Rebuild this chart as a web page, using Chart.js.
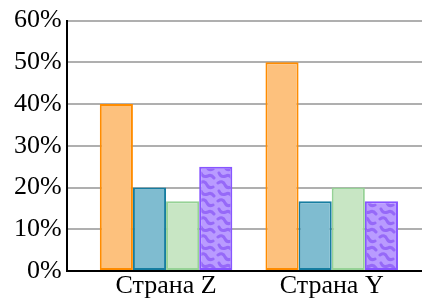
<!DOCTYPE html>
<html lang="ru">
<head>
  <meta charset="UTF-8">
  <title>Страны</title>
  <script src="https://cdn.jsdelivr.net/npm/chart.js"></script>
  <style>
    html, body { margin: 0; padding: 0; background: #fff; }
    canvas { display: block; }
  </style>
</head>
<body>
  <canvas id="myChart" width="422" height="300"></canvas>
  <script>
    // data
    const categories = ['Страна Z', 'Страна Y'];
    const seriesOrange = [40, 50];
    const seriesBlue = [20, 16.7];
    const seriesGreen = [16.7, 20];
    const seriesPurple = [25, 16.7];
    const yTicks = [0, 10, 20, 30, 40, 50, 60];

    // purple texture for the last series
    function makePattern() {
      const c = document.createElement('canvas');
      c.width = 18; c.height = 18;
      const g = c.getContext('2d');
      g.fillStyle = 'rgb(185,155,255)';
      g.fillRect(0, 0, 18, 18);
      g.strokeStyle = 'rgb(150,105,248)';
      g.lineWidth = 3;
      g.lineCap = 'round';
      g.beginPath();
      g.moveTo(2, 3); g.quadraticCurveTo(7, 0, 9, 5); g.quadraticCurveTo(11, 9, 15, 7);
      g.moveTo(3, 11); g.quadraticCurveTo(5, 16, 10, 14); g.quadraticCurveTo(13, 12, 16, 16);
      g.stroke();
      return g.createPattern(c, 'repeat');
    }

    const toPoints = arr => arr.map((v, i) => ({ x: i + 1, y: v }));
    const font = { family: "'Liberation Serif', 'Times New Roman', serif", size: 26 };

    const ctx = document.getElementById('myChart');
    new Chart(ctx, {
      type: 'bar',
      data: {
        datasets: [
          { data: toPoints(seriesOrange), backgroundColor: 'rgb(253,193,125)', borderColor: 'rgb(255,140,0)' },
          { data: toPoints(seriesBlue), backgroundColor: 'rgb(127,188,208)', borderColor: 'rgb(22,125,160)' },
          { data: toPoints(seriesGreen), backgroundColor: 'rgb(200,230,196)', borderColor: 'rgb(150,210,150)' },
          { data: toPoints(seriesPurple), backgroundColor: makePattern(), borderColor: 'rgb(135,85,255)' }
        ].map(d => Object.assign(d, { borderWidth: 2, borderSkipped: false, barPercentage: 1, categoryPercentage: 0.8 }))
      },
      options: {
        responsive: false,
        animation: false,
        layout: { padding: { left: 9, top: 4, right: 0, bottom: -1 } },
        plugins: { legend: { display: false }, tooltip: { enabled: false } },
        scales: {
          x: {
            type: 'linear',
            offset: false,
            min: 0.4,
            max: 2.545,
            afterBuildTicks: axis => { axis.ticks = categories.map((c, i) => ({ value: i + 1 })); },
            grid: { display: false, drawTicks: false, offset: false },
            border: { display: true, color: '#000', width: 2 },
            ticks: { callback: v => categories[v - 1], font: Object.assign({ lineHeight: 1 }, font), color: '#000', padding: 2, maxRotation: 0, autoSkip: false }
          },
          y: {
            min: 0,
            max: 60,
            afterBuildTicks: axis => { axis.ticks = yTicks.map(v => ({ value: v })); },
            grid: { color: 'rgb(175,175,175)', lineWidth: 2, drawTicks: false },
            border: { display: true, color: '#000', width: 2 },
            ticks: { callback: v => v + '%', font, color: '#000', padding: 5 }
          }
        }
      }
    });
  </script>
</body>
</html>
